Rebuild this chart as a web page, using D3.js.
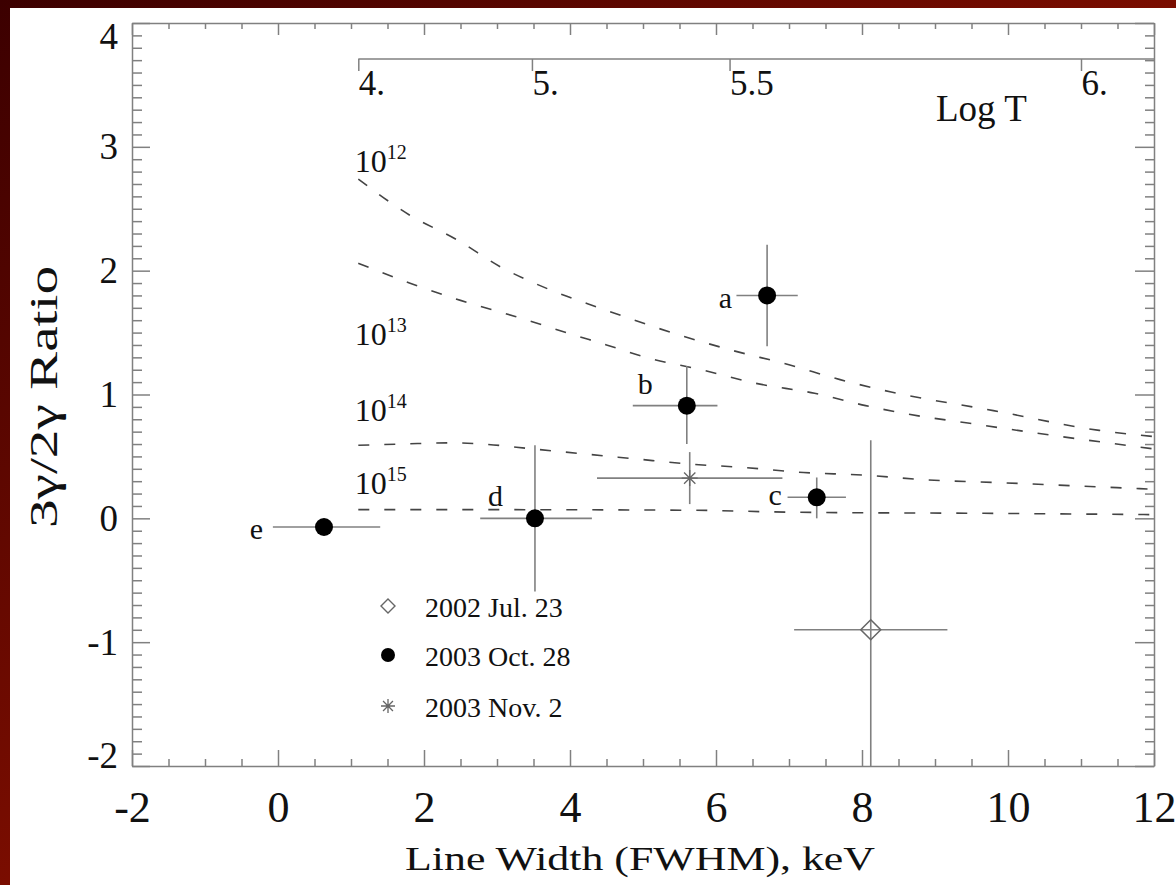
<!DOCTYPE html>
<html><head><meta charset="utf-8">
<script src="https://cdn.jsdelivr.net/npm/d3@7"></script>
<style>
html,body{margin:0;padding:0;background:#fff;}
svg{display:block;font-family:"Liberation Serif","Times New Roman",serif;}
</style>
</head><body>
<svg id="chart" width="1176" height="885"></svg>
<script>
// ---------------- data ----------------
const xTicksMajor = [-2, 0, 2, 4, 6, 8, 10, 12];
const yTicksMajor = [-2, -1, 0, 1, 2, 3, 4];
const logTTicks = [4, 5, 5.5, 6];
const logTLabels = ["4.", "5.", "5.5", "6."];
const densityExponents = ["12", "13", "14", "15"];

// model curves: ratio vs line width for electron densities 1e12..1e15
const curve12W = [1.1, 1.8, 2.45, 3.05, 3.75, 4.4, 5.5, 6.2, 7.0, 7.7, 8.4, 9.8, 11.25, 12];
const curve12R = [2.74, 2.45, 2.25, 2.03, 1.84, 1.70, 1.48, 1.36, 1.24, 1.12, 1.02, 0.87, 0.71, 0.66];
const curve13W = [1.1, 1.8, 2.5, 3.25, 3.95, 4.5, 5.1, 5.8, 6.55, 7.35, 8.05, 8.85, 9.45, 9.9, 12];
const curve13R = [2.06, 1.90, 1.76, 1.63, 1.50, 1.40, 1.29, 1.20, 1.09, 1.01, 0.91, 0.82, 0.77, 0.73, 0.56];
const curve14W = [1.1, 1.7, 2.4, 2.8, 3.5, 4.2, 4.9, 5.6, 6.4, 7.2, 8.0, 8.9, 9.8, 11.8, 12];
const curve14R = [0.59, 0.60, 0.61, 0.60, 0.56, 0.52, 0.48, 0.44, 0.41, 0.37, 0.35, 0.31, 0.29, 0.24, 0.235];
const curve15W = [1.1, 3.0, 5.7, 7.0, 9.8, 12];
const curve15R = [0.07, 0.07, 0.065, 0.05, 0.04, 0.03];

// 2003 Oct. 28 points (a..e)
const oct28Labels = ["a", "b", "c", "d", "e"];
const oct28W    = [6.70, 5.60, 7.38, 3.52, 0.63];
const oct28R    = [1.80, 0.91, 0.17, 0.00, -0.07];
const oct28WLo  = [0.42, 0.74, 0.40, 0.75, 0.70];
const oct28WHi  = [0.42, 0.42, 0.40, 0.78, 0.77];
const oct28RLo  = [0.41, 0.31, 0.17, 0.59, 0.00];
const oct28RHi  = [0.41, 0.32, 0.16, 0.59, 0.00];

// 2002 Jul. 23
const jul23W = [8.12], jul23R = [-0.90], jul23WErr = [1.05], jul23RErr = [1.53];
// 2003 Nov. 2
const nov2W = [5.64], nov2R = [0.325], nov2WErr = [1.27], nov2RErr = [0.21];

const legendLabels = ["2002 Jul. 23", "2003 Oct. 28", "2003 Nov. 2"];

// ---------------- drawing ----------------
const svg = d3.select("#chart");
const defs = svg.append("defs");
const grad = defs.append("linearGradient").attr("id", "bg")
  .attr("x1", 0).attr("y1", 0).attr("x2", 1).attr("y2", 1);
grad.append("stop").attr("offset", "0%").attr("stop-color", "#3c0000");
grad.append("stop").attr("offset", "100%").attr("stop-color", "#b81a00");
svg.append("rect").attr("width", 1176).attr("height", 885).attr("fill", "url(#bg)");
svg.append("rect").attr("x", 10).attr("y", 8).attr("width", 1166).attr("height", 877).attr("fill", "#fff");

const L = 132, R = 1154, T = 23, B = 766;
const x = d3.scaleLinear().domain([-2, 12]).range([L, R]);
const y = d3.scaleLinear().domain([-2, 4]).range([B, T]);

defs.append("clipPath").attr("id", "plotclip").append("rect")
  .attr("x", L).attr("y", T).attr("width", R - L).attr("height", B - T);

const axisColor = "#808080";
function styleAxis(g, fs) {
  g.attr("font-family", null).attr("font-size", fs);
  g.selectAll("path.domain").attr("stroke", axisColor).attr("stroke-width", 1.5);
  g.selectAll(".tick line").attr("stroke", axisColor).attr("stroke-width", 1.5);
  g.selectAll(".tick text").attr("fill", "#111");
}
const xMinor = d3.range(-2, 12.001, 0.5).filter(v => !xTicksMajor.includes(v));
const yMinor = d3.range(-2, 4.001, 0.1).map(v => +v.toFixed(1)).filter(v => !yTicksMajor.includes(Math.round(v * 10) / 10) || Math.abs(v - Math.round(v)) > 1e-6);

// bottom axis
const gB = svg.append("g").attr("transform", `translate(0,${B})`)
  .call(d3.axisBottom(x).tickValues(xTicksMajor).tickSizeInner(-16).tickSizeOuter(0).tickPadding(25).tickFormat(d => String(d)));
styleAxis(gB, 44);
const gBm = svg.append("g").attr("transform", `translate(0,${B})`)
  .call(d3.axisBottom(x).tickValues(xMinor).tickSizeInner(-7).tickSizeOuter(0).tickFormat(""));
styleAxis(gBm, 10); gBm.select("path.domain").remove();
// top axis
const gT = svg.append("g").attr("transform", `translate(0,${T})`)
  .call(d3.axisTop(x).tickValues(xTicksMajor).tickSizeInner(-12).tickSizeOuter(0).tickFormat(""));
styleAxis(gT, 10);
const gTm = svg.append("g").attr("transform", `translate(0,${T})`)
  .call(d3.axisTop(x).tickValues(xMinor).tickSizeInner(-6).tickSizeOuter(0).tickFormat(""));
styleAxis(gTm, 10); gTm.select("path.domain").remove();
// left axis
const gL = svg.append("g").attr("transform", `translate(${L},0)`)
  .call(d3.axisLeft(y).tickValues(yTicksMajor).tickSizeInner(-18).tickSizeOuter(0).tickPadding(14).tickFormat(d => String(d)));
styleAxis(gL, 37);
gL.selectAll(".tick text").attr("dy", d => d === 4 ? "0.68em" : d === -2 ? "0.03em" : "0.32em");
const yMinorVals = d3.range(-20, 41).filter(i => i % 10 !== 0).map(i => i / 10);
const gLm = svg.append("g").attr("transform", `translate(${L},0)`)
  .call(d3.axisLeft(y).tickValues(yMinorVals).tickSizeInner(-10).tickSizeOuter(0).tickFormat(""));
styleAxis(gLm, 10); gLm.select("path.domain").remove();
// right axis
const gR = svg.append("g").attr("transform", `translate(${R},0)`)
  .call(d3.axisRight(y).tickValues(yTicksMajor).tickSizeInner(-19).tickSizeOuter(0).tickFormat(""));
styleAxis(gR, 10);
const gRm = svg.append("g").attr("transform", `translate(${R},0)`)
  .call(d3.axisRight(y).tickValues(yMinorVals).tickSizeInner(-9).tickSizeOuter(0).tickFormat(""));
styleAxis(gRm, 10); gRm.select("path.domain").remove();

// secondary Log T axis: FWHM = 1.1 keV * sqrt(T / 1e4)
const tScale = d3.scalePow().exponent(0.5).domain([0, 1e6]).range([x(0), x(11)]);
const yLT = 59;
svg.append("line").attr("x1", tScale(1e4)).attr("x2", R).attr("y1", yLT).attr("y2", yLT)
  .attr("stroke", axisColor).attr("stroke-width", 1.5);
const gLT = svg.append("g").attr("transform", `translate(0,${yLT})`)
  .call(d3.axisBottom(tScale).tickValues(logTTicks.map(t => Math.pow(10, t))).tickSizeInner(12).tickSizeOuter(0)
    .tickFormat((d, i) => logTLabels[i]));
styleAxis(gLT, 35);
gLT.select("path.domain").remove();
gLT.selectAll(".tick text").attr("text-anchor", "start").attr("y", 36).attr("dy", 0);
svg.append("text").attr("x", 936).attr("y", 121).attr("font-size", 37).attr("fill", "#111").text("Log T");

// model curves
const plot = svg.append("g").attr("clip-path", "url(#plotclip)");
const curves = [[curve12W, curve12R], [curve13W, curve13R], [curve14W, curve14R], [curve15W, curve15R]];
const line = d3.line().x(d => x(d[0])).y(d => y(d[1])).curve(d3.curveMonotoneX);
curves.forEach(([W, Rr]) => {
  plot.append("path").datum(W.map((w, i) => [w, Rr[i]]))
    .attr("d", line).attr("fill", "none").attr("stroke", "#444").attr("stroke-width", 1.6)
    .attr("stroke-dasharray", "11,15");
});
// density labels
const densLabelR = [2.80, 1.40, 0.79, 0.20];
densityExponents.forEach((e, i) => {
  const t = svg.append("text").attr("x", x(1.05)).attr("y", y(densLabelR[i])).attr("font-size", 32).attr("fill", "#111");
  t.append("tspan").text("10");
  t.append("tspan").attr("font-size", 20).attr("dy", -13).text(e);
});

// error bars
const errColor = "#808080";
function errBars(W, Rr, wlo, whi, rlo, rhi) {
  W.forEach((w, i) => {
    plot.append("line").attr("x1", x(w - wlo[i])).attr("x2", x(w + whi[i]))
      .attr("y1", y(Rr[i])).attr("y2", y(Rr[i])).attr("stroke", errColor).attr("stroke-width", 1.6);
    if (rlo[i] + rhi[i] > 0)
      plot.append("line").attr("x1", x(w)).attr("x2", x(w))
        .attr("y1", y(Rr[i] - rlo[i])).attr("y2", y(Rr[i] + rhi[i])).attr("stroke", errColor).attr("stroke-width", 1.6);
  });
}
errBars(oct28W, oct28R, oct28WLo, oct28WHi, oct28RLo, oct28RHi);
errBars(jul23W, jul23R, jul23WErr, jul23WErr, jul23RErr, jul23RErr);
errBars(nov2W, nov2R, nov2WErr, nov2WErr, nov2RErr, nov2RErr);

const diamondPath = r => `M0,${-r}L${r},0L0,${r}L${-r},0Z`;
const starPath = r => {
  const d = r * Math.SQRT1_2;
  return `M0,${-r}L0,${r}M${-r},0L${r},0M${-d},${-d}L${d},${d}M${-d},${d}L${d},${-d}`;
};

// markers
plot.selectAll(".oct").data(oct28W).enter().append("circle")
  .attr("cx", d => x(d)).attr("cy", (d, i) => y(oct28R[i])).attr("r", 9).attr("fill", "#000");
plot.selectAll(".jul").data(jul23W).enter().append("path")
  .attr("transform", (d, i) => `translate(${x(d)},${y(jul23R[i])})`).attr("d", diamondPath(10))
  .attr("fill", "none").attr("stroke", "#666").attr("stroke-width", 1.5);
plot.selectAll(".nov").data(nov2W).enter().append("path")
  .attr("transform", (d, i) => `translate(${x(d)},${y(nov2R[i])})`).attr("d", starPath(8))
  .attr("fill", "none").attr("stroke", "#666").attr("stroke-width", 1.3);

// point labels
const labOff = [[-35, 13], [-34, -12], [-35, 8], [-32, -12], [-61, 12]];
oct28Labels.forEach((lab, i) => {
  svg.append("text").attr("x", x(oct28W[i]) + labOff[i][0]).attr("y", y(oct28R[i]) + labOff[i][1])
    .attr("text-anchor", "end").attr("font-size", 30).attr("fill", "#111").text(lab);
});

// legend
const legY = [606, 655, 706];
const lg = svg.append("g");
lg.append("path").attr("transform", `translate(388,${legY[0]})`).attr("d", diamondPath(7))
  .attr("fill", "none").attr("stroke", "#666").attr("stroke-width", 1.4);
lg.append("circle").attr("cx", 388).attr("cy", legY[1]).attr("r", 7).attr("fill", "#000");
lg.append("path").attr("transform", `translate(388,${legY[2]})`).attr("d", starPath(7))
  .attr("fill", "none").attr("stroke", "#666").attr("stroke-width", 1.3);
legendLabels.forEach((t, i) => {
  lg.append("text").attr("x", 425).attr("y", legY[i] + 11).attr("font-size", 28).attr("fill", "#111").text(t);
});

// axis titles
svg.append("text").attr("x", 640).attr("y", 870).attr("text-anchor", "middle")
  .attr("font-size", 34).attr("fill", "#111")
  .attr("textLength", 470).attr("lengthAdjust", "spacingAndGlyphs")
  .text("Line Width (FWHM), keV");
svg.append("text").attr("transform", "translate(57,397) rotate(-90)").attr("text-anchor", "middle")
  .attr("font-size", 39).attr("fill", "#111")
  .attr("textLength", 262).attr("lengthAdjust", "spacingAndGlyphs")
  .text("3γ/2γ Ratio");
</script>
</body></html>
